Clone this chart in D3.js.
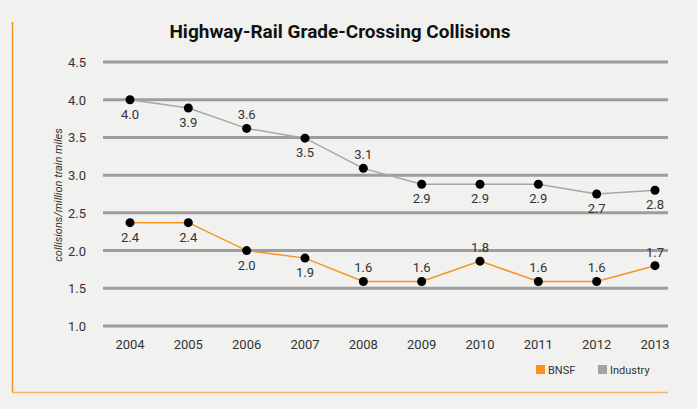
<!DOCTYPE html>
<html><head>
<script src="https://d3js.org/d3.v7.min.js"></script>
<style>
  body { margin: 0; background: #f1f1f0; }
  text { font-family: "Liberation Sans Narrow", "Roboto", sans-serif; fill: #333; }
</style>
</head>
<body>
<svg id="chart" width="697" height="409"></svg>
<script>
  const years = [2004, 2005, 2006, 2007, 2008, 2009, 2010, 2011, 2012, 2013];
  const industry = [4.0, 3.89, 3.62, 3.49, 3.09, 2.88, 2.88, 2.88, 2.75, 2.8];
  const industryLabels = ["4.0", "3.9", "3.6", "3.5", "3.1", "2.9", "2.9", "2.9", "2.7", "2.8"];
  const industryAbove = [false, false, true, false, true, false, false, false, false, false];
  const bnsf = [2.37, 2.37, 2.0, 1.9, 1.59, 1.59, 1.86, 1.59, 1.59, 1.8];
  const bnsfLabels = ["2.4", "2.4", "2.0", "1.9", "1.6", "1.6", "1.8", "1.6", "1.6", "1.7"];
  const bnsfAbove = [false, false, false, false, true, true, true, true, true, true];
  const yTicks = [1.0, 1.5, 2.0, 2.5, 3.0, 3.5, 4.0, 4.5];

  const svg = d3.select("#chart");
  const x = d3.scalePoint().domain(years).range([130, 655]);
  const y = d3.scaleLinear().domain([1.0, 4.5]).range([326, 62]);

  // frame accents
  svg.append("line").attr("x1", 12.5).attr("x2", 12.5).attr("y1", 22).attr("y2", 392)
     .attr("stroke", "#f7931e").attr("stroke-width", 1.5);
  svg.append("line").attr("x1", 12).attr("x2", 668).attr("y1", 392.5).attr("y2", 392.5)
     .attr("stroke", "#f5b06a").attr("stroke-width", 1.5);

  svg.append("text").attr("x", 340).attr("y", 38).attr("text-anchor", "middle")
     .style("font-weight", "bold").style("font-size", "19px").style("fill", "#111")
     .text("Highway-Rail Grade-Crossing Collisions");

  // grid
  svg.selectAll(".grid").data(yTicks).join("line")
     .attr("x1", 103).attr("x2", 668).attr("y1", d => y(d)).attr("y2", d => y(d))
     .attr("stroke", "#9d9d9d").attr("stroke-width", 3);
  svg.selectAll(".ytick").data(yTicks).join("text")
     .attr("x", 86).attr("y", d => y(d) + 5).attr("text-anchor", "end")
     .style("font-size", "13px").text(d => d.toFixed(1));
  svg.selectAll(".xtick").data(years).join("text")
     .attr("x", d => x(d)).attr("y", 349).attr("text-anchor", "middle")
     .style("font-size", "13px").text(d => d);

  svg.append("text").attr("transform", "translate(62,195) rotate(-90)")
     .attr("text-anchor", "middle").style("font-style", "italic").style("font-size", "11px")
     .text("collisions/million train miles");

  function series(vals, labels, above, color) {
    const line = d3.line().x((d, i) => x(years[i])).y(d => y(d));
    svg.append("path").datum(vals).attr("d", line).attr("fill", "none")
       .attr("stroke", color).attr("stroke-width", 1.5);
    svg.append("g").selectAll("circle").data(vals).join("circle")
       .attr("cx", (d, i) => x(years[i])).attr("cy", d => y(d)).attr("r", 4.5).attr("fill", "#000");
    svg.append("g").selectAll("text").data(vals).join("text")
       .attr("x", (d, i) => x(years[i]))
       .attr("y", (d, i) => above[i] ? y(d) - 9 : y(d) + 19)
       .attr("text-anchor", "middle").style("font-size", "13px")
       .text((d, i) => labels[i]);
  }
  series(industry, industryLabels, industryAbove, "#a6a6a6");
  series(bnsf, bnsfLabels, bnsfAbove, "#f7931e");

  // legend
  const legend = [["BNSF", "#f7931e", 536], ["Industry", "#a3a3a3", 598]];
  legend.forEach(([name, color, lx]) => {
    svg.append("rect").attr("x", lx).attr("y", 365).attr("width", 9).attr("height", 9).attr("fill", color);
    svg.append("text").attr("x", lx + 12).attr("y", 374).style("font-size", "11px").text(name);
  });
</script>
</body></html>
